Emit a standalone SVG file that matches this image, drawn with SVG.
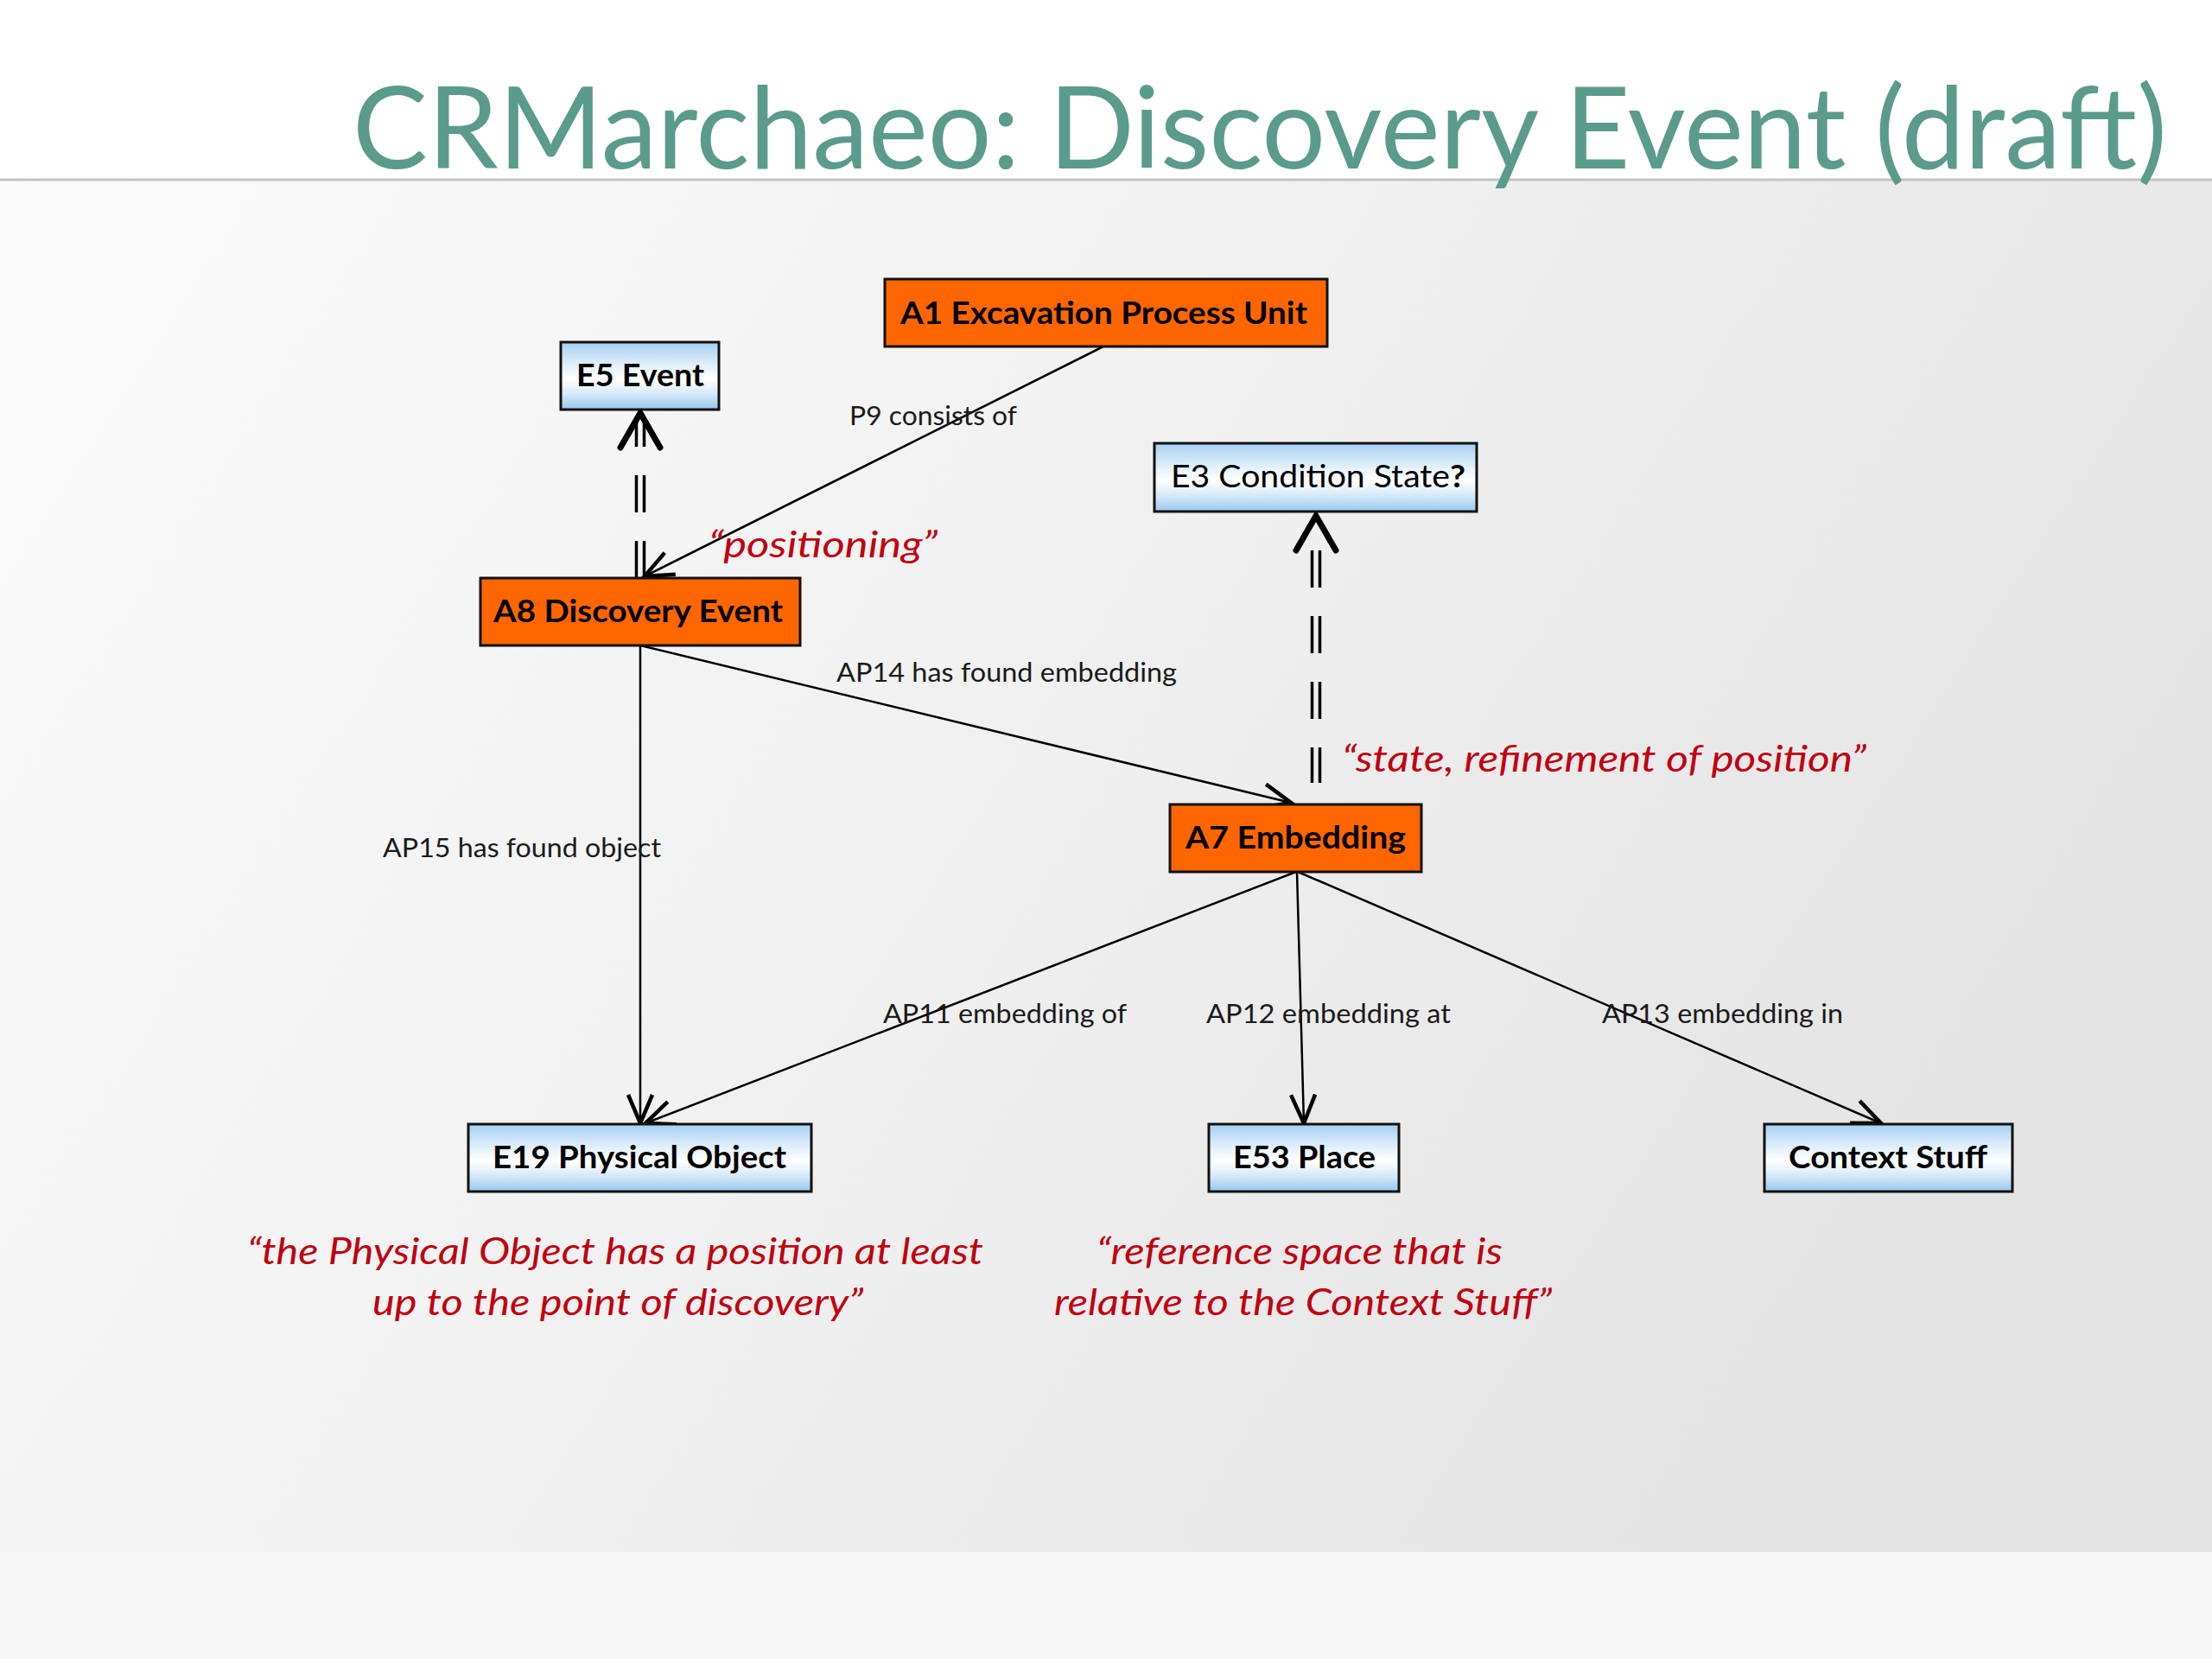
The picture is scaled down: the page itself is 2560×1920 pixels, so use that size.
<svg xmlns="http://www.w3.org/2000/svg" width="2560" height="1920" viewBox="0 0 2560 1920">
  <defs>
    <linearGradient id="blueFill" x1="0" y1="0" x2="0" y2="1">
      <stop offset="0" stop-color="#a6d0f2"/>
      <stop offset="0.35" stop-color="#e3f0fb"/>
      <stop offset="0.55" stop-color="#ffffff"/>
      <stop offset="0.78" stop-color="#d3e7f8"/>
      <stop offset="1" stop-color="#98c7ef"/>
    </linearGradient>
    <linearGradient id="bg" x1="0" y1="0" x2="1" y2="0.4">
      <stop offset="0" stop-color="#fbfbfb"/>
      <stop offset="0.5" stop-color="#f1f1f1"/>
      <stop offset="1" stop-color="#e4e4e4"/>
    </linearGradient>
    <marker id="arr" markerUnits="userSpaceOnUse" markerWidth="40" markerHeight="34" viewBox="-36 -17 40 34" refX="0" refY="0" orient="auto" overflow="visible">
      <path d="M-33,-14 L0,0 L-33,14" fill="none" stroke="#000" stroke-width="4.5" stroke-linejoin="miter"/>
    </marker>
    <style>
      .title { font-family: Lato, "Open Sans", "Liberation Sans", sans-serif; font-size: 132px; fill: #5b9b8c; }
      .box-o { fill: #ff6600; stroke: #111; stroke-width: 3; }
      .box-b { fill: url(#blueFill); stroke: #111; stroke-width: 3; }
      .nl { font-family: Lato, "Open Sans", "Liberation Sans", sans-serif; font-size: 36px; font-weight: bold; fill: #000; }
      .nlr { font-family: Lato, "Open Sans", "Liberation Sans", sans-serif; font-size: 36px; font-weight: normal; fill: #000; }
      .el { font-family: Lato, "Open Sans", "Liberation Sans", sans-serif; font-size: 30px; fill: #1a1a1a; }
      .red { font-family: Lato, "Open Sans", "Liberation Sans", sans-serif; font-size: 42px; font-style: italic; fill: #c00010; }
      .edge { fill: none; stroke: #000; stroke-width: 2.5; marker-end: url(#arr); }
      .dash { fill: none; stroke: #000; stroke-width: 3.5; stroke-dasharray: 43 33; }
      .bigarrow { fill: none; stroke: #000; stroke-width: 7; stroke-linejoin: miter; stroke-linecap: round; }
    </style>
  </defs>

  <!-- background -->
  <rect x="0" y="0" width="2560" height="1920" fill="#ffffff"/>
  <rect x="0" y="208" width="2560" height="1590" fill="url(#bg)"/>
  <rect x="0" y="1796" width="2560" height="124" fill="#f7f7f7"/>
  <line x1="0" y1="208" x2="2560" y2="208" stroke="#c4c4c4" stroke-width="3"/>

  <text class="title" x="408" y="195" textLength="2100" lengthAdjust="spacingAndGlyphs">CRMarchaeo: Discovery Event (draft)</text>

  <!-- connectors -->
  <g id="connectors">
    <!-- P9 consists of -->
    <line class="edge" x1="1277" y1="401" x2="746" y2="667"/>
    <!-- AP14 has found embedding -->
    <line class="edge" x1="741" y1="747" x2="1494" y2="929"/>
    <!-- AP15 has found object -->
    <line class="edge" x1="741" y1="747" x2="741" y2="1300"/>
    <!-- AP11 embedding of -->
    <line class="edge" x1="1500" y1="1009" x2="747" y2="1300"/>
    <!-- AP12 embedding at -->
    <line class="edge" x1="1501" y1="1009" x2="1509" y2="1300"/>
    <!-- AP13 embedding in -->
    <line class="edge" x1="1502" y1="1009" x2="2177" y2="1300"/>

    <!-- A8 to E5 (double dashed, big arrow) -->
    <line class="dash" x1="736.5" y1="669" x2="736.5" y2="482"/>
    <line class="dash" x1="745.5" y1="669" x2="745.5" y2="482"/>
    <path class="bigarrow" d="M718,518 L741,478 L764,518"/>

    <!-- A7 to E3 (double dashed, big arrow) -->
    <line class="dash" x1="1518.5" y1="637" x2="1518.5" y2="906"/>
    <line class="dash" x1="1527.5" y1="637" x2="1527.5" y2="906"/>
    <path class="bigarrow" d="M1500,637 L1523,597 L1546,637"/>

    <text class="el" x="983" y="492" textLength="194" lengthAdjust="spacingAndGlyphs">P9 consists of</text>
    <text class="el" x="968" y="789" textLength="394" lengthAdjust="spacingAndGlyphs">AP14 has found embedding</text>
    <text class="el" x="443" y="992" textLength="322" lengthAdjust="spacingAndGlyphs">AP15 has found object</text>
    <text class="el" x="1022" y="1184" textLength="282" lengthAdjust="spacingAndGlyphs">AP11 embedding of</text>
    <text class="el" x="1396" y="1184" textLength="283" lengthAdjust="spacingAndGlyphs">AP12 embedding at</text>
    <text class="el" x="1854" y="1184" textLength="279" lengthAdjust="spacingAndGlyphs">AP13 embedding in</text>
  </g>

  <!-- nodes -->
  <g id="A1">
    <rect class="box-o" x="1024" y="323" width="512" height="78"/>
    <text class="nl" x="1042" y="375" textLength="471" lengthAdjust="spacingAndGlyphs">A1 Excavation Process Unit</text>
  </g>
  <g id="E5">
    <rect class="box-b" x="649" y="396" width="183" height="78"/>
    <text class="nl" x="667" y="447" textLength="148" lengthAdjust="spacingAndGlyphs">E5 Event</text>
  </g>
  <g id="E3">
    <rect class="box-b" x="1336" y="513" width="373" height="79"/>
    <text class="nlr" x="1355" y="564" textLength="341" lengthAdjust="spacingAndGlyphs">E3 Condition State<tspan font-weight="bold">?</tspan></text>
  </g>
  <g id="A8">
    <rect class="box-o" x="556" y="669" width="370" height="78"/>
    <text class="nl" x="571" y="720" textLength="335" lengthAdjust="spacingAndGlyphs">A8 Discovery Event</text>
  </g>
  <g id="A7">
    <rect class="box-o" x="1354" y="931" width="291" height="78"/>
    <text class="nl" x="1372" y="982" textLength="255" lengthAdjust="spacingAndGlyphs">A7 Embedding</text>
  </g>
  <g id="E19">
    <rect class="box-b" x="542" y="1301" width="397" height="78"/>
    <text class="nl" x="570" y="1352" textLength="340" lengthAdjust="spacingAndGlyphs">E19 Physical Object</text>
  </g>
  <g id="E53">
    <rect class="box-b" x="1399" y="1301" width="220" height="78"/>
    <text class="nl" x="1427" y="1352" textLength="165" lengthAdjust="spacingAndGlyphs">E53 Place</text>
  </g>
  <g id="ContextStuff">
    <rect class="box-b" x="2042" y="1301" width="287" height="78"/>
    <text class="nl" x="2070" y="1352" textLength="230" lengthAdjust="spacingAndGlyphs">Context Stuff</text>
  </g>

  <!-- annotations -->
  <g id="annotations">
    <text class="red" x="820" y="645" textLength="265" lengthAdjust="spacingAndGlyphs">“positioning”</text>
    <text class="red" x="1553" y="893" textLength="607" lengthAdjust="spacingAndGlyphs">“state, refinement of position”</text>
    <text class="red" x="286" y="1463" textLength="852" lengthAdjust="spacingAndGlyphs">“the Physical Object has a position at least</text>
    <text class="red" x="431" y="1522" textLength="568" lengthAdjust="spacingAndGlyphs">up to the point of discovery”</text>
    <text class="red" x="1269" y="1463" textLength="470" lengthAdjust="spacingAndGlyphs">“reference space that is</text>
    <text class="red" x="1220" y="1522" textLength="576" lengthAdjust="spacingAndGlyphs">relative to the Context Stuff”</text>
  </g>
</svg>
